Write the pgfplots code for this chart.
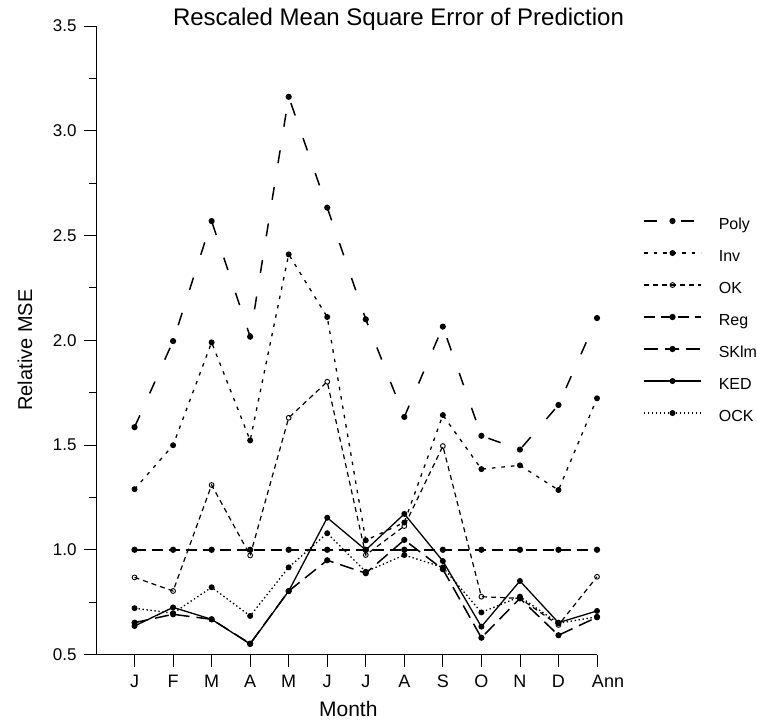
\documentclass[border=0pt]{standalone}
\usepackage{pgfplots}
\usepackage{pgfplotstable}
\pgfplotsset{compat=1.18}
\usepackage{fontspec}
\setmainfont{Liberation Sans}

% Relative MSE by month (1 = J ... 12 = D, 13 = annual)
\pgfplotstableread{
x  Poly   Inv    OK     Reg   SKlm   KED    OCK
1  1.585  1.289  0.868  1.00  0.652  0.636  0.721
2  1.996  1.499  0.803  1.00  0.692  0.725  0.697
3  2.569  1.990  1.309  1.00  0.668  0.668  0.821
4  2.017  1.522  0.973  1.00  0.552  0.550  0.684
5  3.162  2.410  1.630  1.00  0.803  0.803  0.916
6  2.633  2.111  1.802  1.00  0.950  1.153  1.079
7  2.100  1.045  0.975  1.00  0.888  0.999  0.895
8  1.634  1.130  1.113  1.00  1.047  1.171  0.975
9  2.065  1.643  1.495  1.00  0.907  0.946  0.916
10 1.544  1.385  0.776  1.00  0.580  0.633  0.701
11 1.478  1.403  0.768  1.00  0.768  0.851  0.776
12 1.691  1.285  0.641  1.00  0.592  0.652  0.649
13 2.106  1.723  0.871  1.00  0.678  0.708  0.680
}\msedata

\begin{document}
\begin{tikzpicture}[x=1bp,y=1bp]
\useasboundingbox (0,0) rectangle (757,-721);
\node[anchor=base, font=\fontsize{24bp}{28bp}\selectfont] at (398.5,-26) {Rescaled Mean Square Error of Prediction};
\begin{axis}[
  at={(96bp,-654.5bp)}, anchor=south west,
  scale only axis, width=501bp, height=628.5bp,
  xmin=0, xmax=13, ymin=0.5, ymax=3.5,
  clip=false,
  axis x line=bottom, axis y line=left,
  axis line style={-, line width=0.8bp, black},
  tick style={line width=0.8bp, black},
  tick align=outside,
  xtick={1,...,13},
  xticklabels={J,F,M,A,M,J,J,A,S,O,N,D,\hspace*{22bp}Ann},
  ytick={0.5,1.0,...,3.5},
  minor y tick num=1,
  major tick length=12bp,
  minor tick length=7bp,
  /pgf/number format/assume math mode=true,
  yticklabel={\pgfmathprintnumber[fixed,fixed zerofill,precision=1]{\tick}},
  yticklabel style={font=\fontsize{17bp}{20bp}\selectfont, xshift=-4bp},
  xticklabel style={font=\fontsize{18bp}{21bp}\selectfont, yshift=-5bp},
  xlabel={Month},
  xlabel style={at={(axis description cs:0.5036,0)}, anchor=base, yshift=-62bp,
    font=\fontsize{21bp}{25bp}\selectfont},
  ylabel={Relative MSE},
  ylabel style={at={(axis description cs:-0.1277,0.4845)}, anchor=base,
    font=\fontsize{20bp}{24bp}\selectfont},
  legend style={draw=none, fill=none, at={(axis description cs:1.0918,0.694)},
    anchor=north west, inner sep=0pt, row sep=17bp, column sep=17bp,
    nodes={inner sep=0pt, text height=11bp, text depth=4bp},
    font=\fontsize{16bp}{19bp}\selectfont},
  legend cell align=left,
  legend image code/.code={
    \draw[mark repeat=2, mark phase=2] plot coordinates {(0bp,5bp) (28.5bp,5bp) (57bp,5bp)};
  },
  every axis plot/.append style={black},
]
\addplot[line width=1.5bp, dash pattern=on 13bp off 24bp, mark=*, mark size=2.3bp, mark options={solid}]
  table[x=x, y=Poly] {\msedata};
\addlegendentry{Poly}
\addplot[line width=1.3bp, dash pattern=on 3.5bp off 6bp, mark=*, mark size=2.3bp, mark options={solid}]
  table[x=x, y=Inv] {\msedata};
\addlegendentry{Inv}
\addplot[line width=1.2bp, dash pattern=on 5bp off 4bp, mark=o, mark size=2.4bp, mark options={solid, fill=white, line width=0.9bp}]
  table[x=x, y=OK] {\msedata};
\addlegendentry{OK}
\addplot[line width=1.6bp, dash pattern=on 11bp off 6bp, mark=*, mark size=2.3bp, mark options={solid}]
  table[x=x, y=Reg] {\msedata};
\addlegendentry{Reg}
\addplot[line width=1.5bp, dash pattern=on 14bp off 7bp, mark=*, mark size=2.3bp, mark options={solid}]
  table[x=x, y=SKlm] {\msedata};
\addlegendentry{SKlm}
\addplot[line width=1.3bp, solid, mark=*, mark size=2.3bp]
  table[x=x, y=KED] {\msedata};
\addlegendentry{KED}
\addplot[line width=1.3bp, dash pattern=on 1.4bp off 2.6bp, mark=*, mark size=2.3bp, mark options={solid}]
  table[x=x, y=OCK] {\msedata};
\addlegendentry{OCK}
\end{axis}
\end{tikzpicture}
\end{document}
